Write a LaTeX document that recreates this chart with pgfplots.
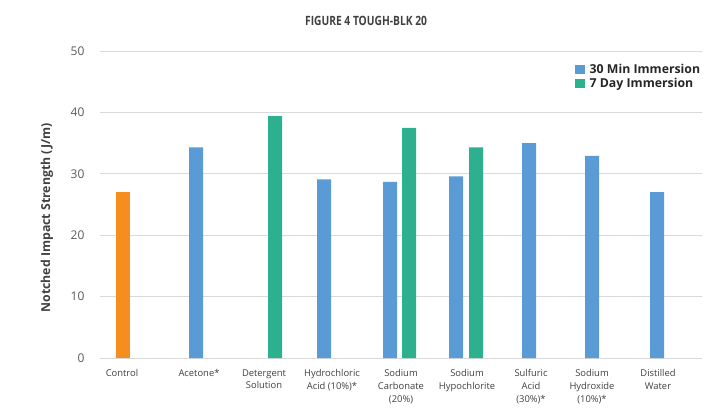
\documentclass[border=0pt]{standalone}
\usepackage{pgfplots}
\pgfplotsset{compat=1.18}
\usepackage{fontspec}
\setmainfont{Open Sans}
\newfontfamily\titlefont[FakeStretch=0.8]{Open Sans}
\definecolor{cblue}{HTML}{5B9BD5}
\definecolor{cgreen}{HTML}{2DB08D}
\definecolor{corange}{HTML}{F68D1F}
\definecolor{gridc}{HTML}{D9D9D9}
\definecolor{tickc}{HTML}{595959}
\definecolor{labc}{HTML}{404040}
\definecolor{legc}{HTML}{262626}
\begin{document}
\begin{tikzpicture}[x=1pt,y=1pt]
\useasboundingbox (-100,-55) rectangle (609,358);
\begin{axis}[
  at={(0,0)}, anchor=south west,
  scale only axis, width=602pt, height=307pt,
  xmin=100, xmax=702, ymin=0, ymax=50,
  axis line style={draw=none},
  major tick length=0pt,
  ytick={0,10,20,30,40,50},
  ymajorgrids, grid style={gridc, line width=1pt},
  /pgf/number format/assume math mode=true,
  yticklabel style={font=\fontsize{12}{13}\selectfont, text=tickc, xshift=-12pt},
  xtick={122,199,264,332,401,467,531,592,658},
  xticklabels={Control, Acetone*, {Detergent\\Solution}, {Hydrochloric\\Acid (10\%)*}, {Sodium\\Carbonate\\(20\%)}, {Sodium\\Hypochlorite}, {Sulfuric\\Acid\\(30\%)*}, {Sodium\\Hydroxide\\(10\%)*}, {Distilled\\Water}},
  xticklabel style={font=\fontsize{9.4}{12.7}\selectfont, text=labc, align=center, anchor=north, yshift=-8pt},
  ylabel={Notched Impact Strength (J/m)},
  ylabel style={at={(axis description cs:-0.088,0.456)}, anchor=center, font=\bfseries\fontsize{12.3}{13}\selectfont, text=labc},
  title={FIGURE 4 TOUGH-BLK 20},
  title style={at={(axis description cs:0.442,1.08)}, anchor=center, font=\titlefont\bfseries\fontsize{12.8}{14}\selectfont, text=labc},
  legend style={at={(axis description cs:0.789,0.963)}, anchor=north west, draw=none, fill=none, inner sep=0pt, font=\bfseries\fontsize{12.3}{14}\selectfont, text=legc, row sep=-1pt},
  legend cell align=left,
  legend image code/.code={\fill[#1] (0pt,-4.5pt) rectangle (9.5pt,4.5pt); \path (12.5pt,0pt);},
]
\addplot[ybar, bar width=14pt, bar shift=0pt, fill=corange, draw=none, forget plot] coordinates {(123,27.0)};
\addplot[ybar, bar width=14pt, bar shift=0pt, fill=cblue, draw=none] coordinates {(196,34.3) (324,29.1) (390,28.7) (456,29.6) (529,35.0) (592,32.9) (657,27.0)};
\addlegendentry{30 Min Immersion}
\addplot[ybar, bar width=14pt, bar shift=0pt, fill=cgreen, draw=none] coordinates {(275,39.4) (409,37.5) (476,34.3)};
\addlegendentry{7 Day Immersion}
\end{axis}
\end{tikzpicture}
\end{document}
